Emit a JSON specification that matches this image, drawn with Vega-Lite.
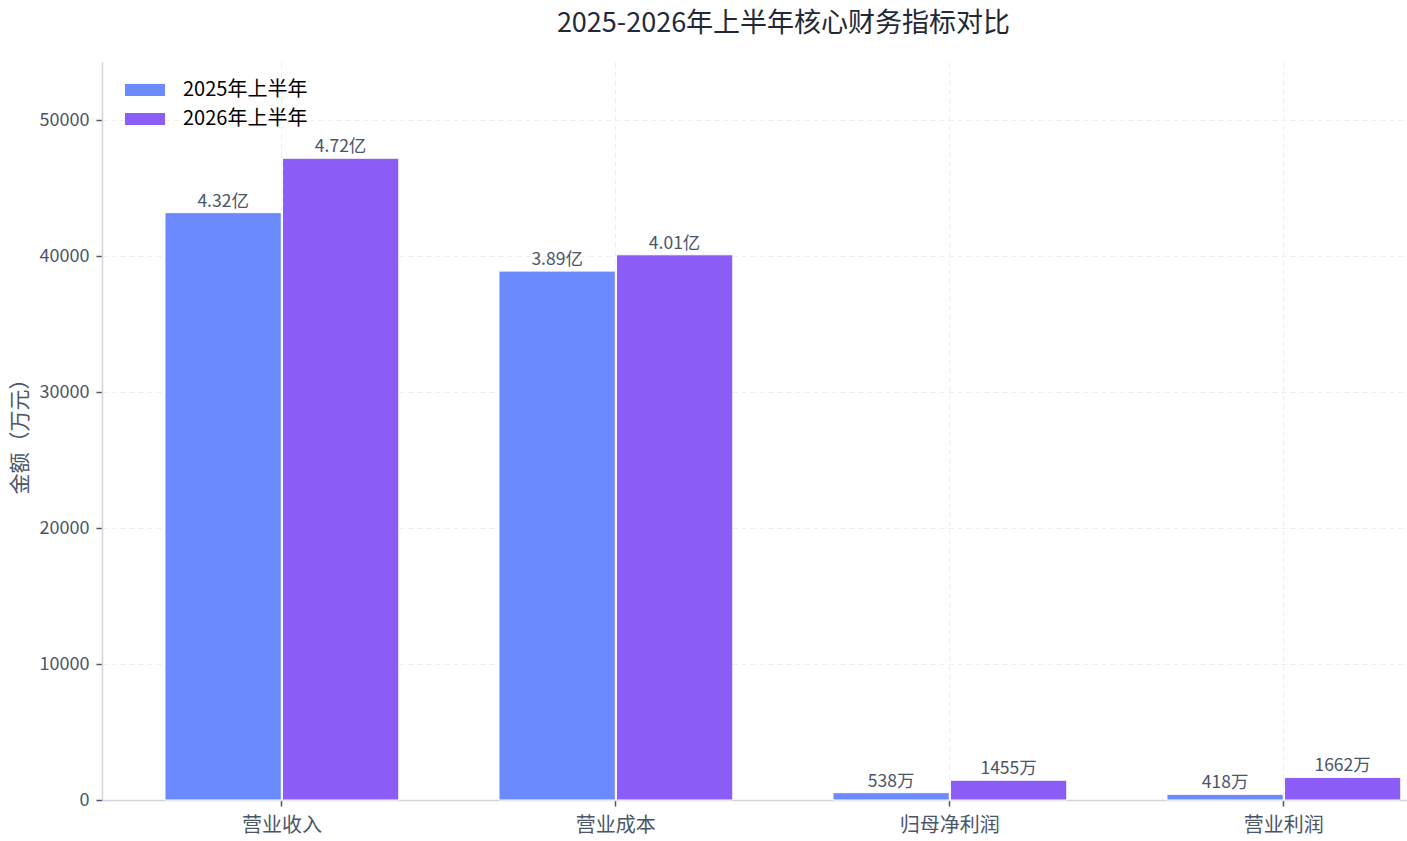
{
  "$schema": "https://vega.github.io/schema/vega-lite/v6.json",
  "description": "2025-2026年上半年核心财务指标对比",
  "width": 1305,
  "height": 738,
  "padding": {"left": 102, "top": 62, "right": 0, "bottom": 41},
  "autosize": {"type": "none"},
  "background": "white",
  "title": {
    "text": "2025-2026年上半年核心财务指标对比",
    "font": "Noto Sans CJK SC",
    "fontSize": 27,
    "fontWeight": "normal",
    "color": "#1f2937",
    "anchor": "middle",
    "offset": 24,
    "dx": 29
  },
  "config": {
    "view": {"stroke": null},
    "font": "Noto Sans CJK SC"
  },
  "data": {
    "values": [
      {"指标": "营业收入", "期间": "2025年上半年", "金额": 43200, "标签": "4.32亿"},
      {"指标": "营业收入", "期间": "2026年上半年", "金额": 47200, "标签": "4.72亿"},
      {"指标": "营业成本", "期间": "2025年上半年", "金额": 38900, "标签": "3.89亿"},
      {"指标": "营业成本", "期间": "2026年上半年", "金额": 40100, "标签": "4.01亿"},
      {"指标": "归母净利润", "期间": "2025年上半年", "金额": 538, "标签": "538万"},
      {"指标": "归母净利润", "期间": "2026年上半年", "金额": 1455, "标签": "1455万"},
      {"指标": "营业利润", "期间": "2025年上半年", "金额": 418, "标签": "418万"},
      {"指标": "营业利润", "期间": "2026年上半年", "金额": 1662, "标签": "1662万"}
    ]
  },
  "encoding": {
    "x": {
      "field": "指标",
      "type": "nominal",
      "sort": ["营业收入", "营业成本", "归母净利润", "营业利润"],
      "scale": {"paddingInner": 0.3, "paddingOuter": 0.1036, "align": 0.91},
      "axis": {
        "title": null,
        "labelAngle": 0,
        "labelFontSize": 20,
        "labelColor": "#4a5568",
        "labelPadding": 9,
        "tickColor": "#4a5568",
        "tickSize": 6,
        "tickWidth": 1.5,
        "domainColor": "#d1d5db",
        "domainWidth": 1.5,
        "grid": true,
        "gridColor": "#eeeeee",
        "gridDash": [5, 4],
        "gridWidth": 1
      }
    },
    "xOffset": {
      "field": "期间",
      "type": "nominal",
      "scale": {"paddingInner": 0.01}
    },
    "y": {
      "field": "金额",
      "type": "quantitative",
      "scale": {"domain": [0, 54280], "nice": false},
      "axis": {
        "title": "金额（万元）",
        "titleFontSize": 21,
        "titleFontWeight": "normal",
        "titleColor": "#4a5568",
        "titlePadding": 9,
        "values": [0, 10000, 20000, 30000, 40000, 50000],
        "format": "d",
        "labelFontSize": 18,
        "labelColor": "#4a5568",
        "labelPadding": 7,
        "tickColor": "#4a5568",
        "tickSize": 6,
        "tickWidth": 1.5,
        "domainColor": "#d1d5db",
        "domainWidth": 1.5,
        "gridColor": "#eeeeee",
        "gridDash": [5, 4],
        "gridWidth": 1
      }
    }
  },
  "layer": [
    {
      "mark": {"type": "bar", "stroke": "white", "strokeWidth": 1},
      "encoding": {
        "color": {
          "field": "期间",
          "type": "nominal",
          "scale": {"range": ["#6b8afd", "#8b5cf6"]},
          "legend": {
            "title": null,
            "orient": "none",
            "legendX": 33,
            "legendY": 18,
            "symbolType": "M-2.5,-0.75L2.5,-0.75L2.5,0.75L-2.5,0.75Z",
            "symbolSize": 256,
            "symbolStrokeWidth": 0,
            "labelFontSize": 20,
            "labelColor": "#000000",
            "labelOffset": 28,
            "rowPadding": 9
          }
        }
      }
    },
    {
      "mark": {
        "type": "text",
        "baseline": "bottom",
        "dy": -2,
        "fontSize": 17.5,
        "color": "#4a5568"
      },
      "encoding": {
        "text": {"field": "标签", "type": "nominal"}
      }
    }
  ]
}
